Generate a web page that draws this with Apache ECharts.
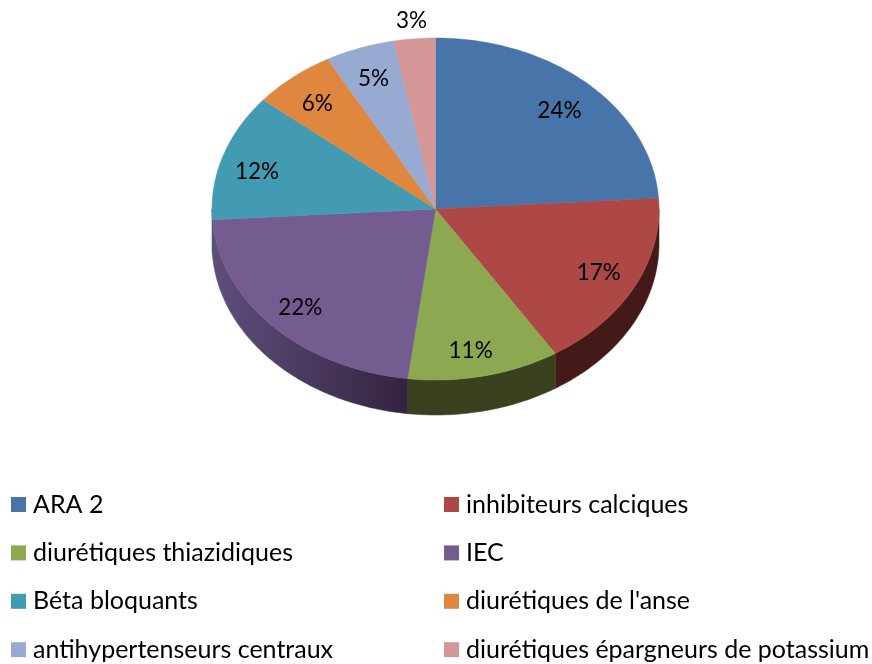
<!DOCTYPE html>
<html>
<head>
<meta charset="utf-8">
<style>html,body{margin:0;padding:0;background:#fff}#chart{width:872px;height:664px}</style>
<script src="https://cdn.jsdelivr.net/npm/echarts@6/dist/echarts.min.js"></script>
</head>
<body>
<div id="chart"></div>
<script>
const categories = ["ARA 2","inhibiteurs calciques","diurétiques thiazidiques","IEC","Béta bloquants","diurétiques de l'anse","antihypertenseurs centraux","diurétiques épargneurs de potassium"];
const shares = [24,17,11,22,12,6,5,3];
const colors = ["#4775a9","#ad4846","#8ca850","#745b90","#439bb3","#df873f","#97aad2","#d49696"];
const wallLeft = ["#2b4666","#431a17","#39411f","#5f4e7c","#2a6070","#85501f","#5d6b85","#7c5858"];
const wallRight = ["#2b4666","#431a17","#39411f","#33233f","#2a6070","#85501f","#5d6b85","#7c5858"];
// label distance along each slice's mid-angle, as a fraction of the radii
const labelReach = [[0.81,0.79],[0.82,0.82],[0.72,0.85],[0.83,0.84],[0.84,0.70],[0.83,0.80],[0.82,0.81],[1.14,1.105]];

const CX = 435.5, CY = 209, RX = 223.5, RY = 171, DEPTH = 35;
const total = shares.reduce((a,b)=>a+b,0);
const FONT = 'Lato, "Liberation Sans", sans-serif';

function rim(deg, dy){
  const t = deg*Math.PI/180;
  return [CX+RX*Math.sin(t), CY-RY*Math.cos(t)+(dy||0)];
}
function arc(a, b, dy){
  const pts = [];
  const n = Math.max(2, Math.ceil(Math.abs(b-a)));
  for(let i=0;i<=n;i++) pts.push(rim(a+(b-a)*i/n, dy));
  return pts;
}
function makeRender(idx){
  return function(params, api){
    const start = api.value(1)/total*360;
    const end = start + api.value(0)/total*360;
    const children = [];
    const wa = Math.max(start,90), wb = Math.min(end,270);
    if(wb>wa){
      const top = arc(wa,wb,0), bot = arc(wb,wa,DEPTH);
      const x0 = Math.min(rim(wa)[0],rim(wb)[0]), x1 = Math.max(rim(wa)[0],rim(wb)[0]);
      const fill = new echarts.graphic.LinearGradient(x0,0,x1,0,[
        {offset:0,color:wallLeft[idx]},{offset:1,color:wallRight[idx]}],true);
      children.push({type:'polygon',shape:{points:top.concat(bot)},style:{fill:fill,stroke:fill,lineWidth:0.5}});
    }
    const pts = [[CX,CY]].concat(arc(start,end,0));
    children.push({type:'polygon',shape:{points:pts},style:{fill:colors[idx],stroke:colors[idx],lineWidth:0.5}});
    const mid = (start+end)/2*Math.PI/180;
    const r = labelReach[idx];
    children.push({type:'text',z2:10,style:{
      text:api.value(0)+'%',
      x:CX+RX*Math.sin(mid)*r[0], y:CY-RY*Math.cos(mid)*r[1],
      font:'22.5px '+FONT, fill:'#000', align:'center', verticalAlign:'middle'}});
    return {type:'group',children:children};
  };
}
let running = 0;
const series = categories.map((name,i)=>{
  const s = {type:'custom',name:name,coordinateSystem:'none',silent:true,z:2,
    itemStyle:{color:colors[i]},
    data:[[shares[i],running]],
    renderItem:makeRender(i),animation:false};
  running += shares[i];
  return s;
});
function column(left, names){
  return {orient:'vertical',left:left,top:492,height:400,itemWidth:15,itemHeight:15,itemGap:23.4,
    icon:'rect',selectedMode:false,padding:0,data:names,
    textStyle:{fontFamily:FONT,fontSize:25,color:'#000',lineHeight:24,padding:[0,0,0,2]}};
}
const leftNames = categories.filter((_,i)=>i%2===0);
const rightNames = categories.filter((_,i)=>i%2===1);
const chart = echarts.init(document.getElementById('chart'),null,{renderer:'canvas'});
chart.setOption({
  animation:false,
  backgroundColor:'#ffffff',
  color:colors,
  legend:[column(11,leftNames),column(444,rightNames)],
  series:series
});
</script>
</body>
</html>
